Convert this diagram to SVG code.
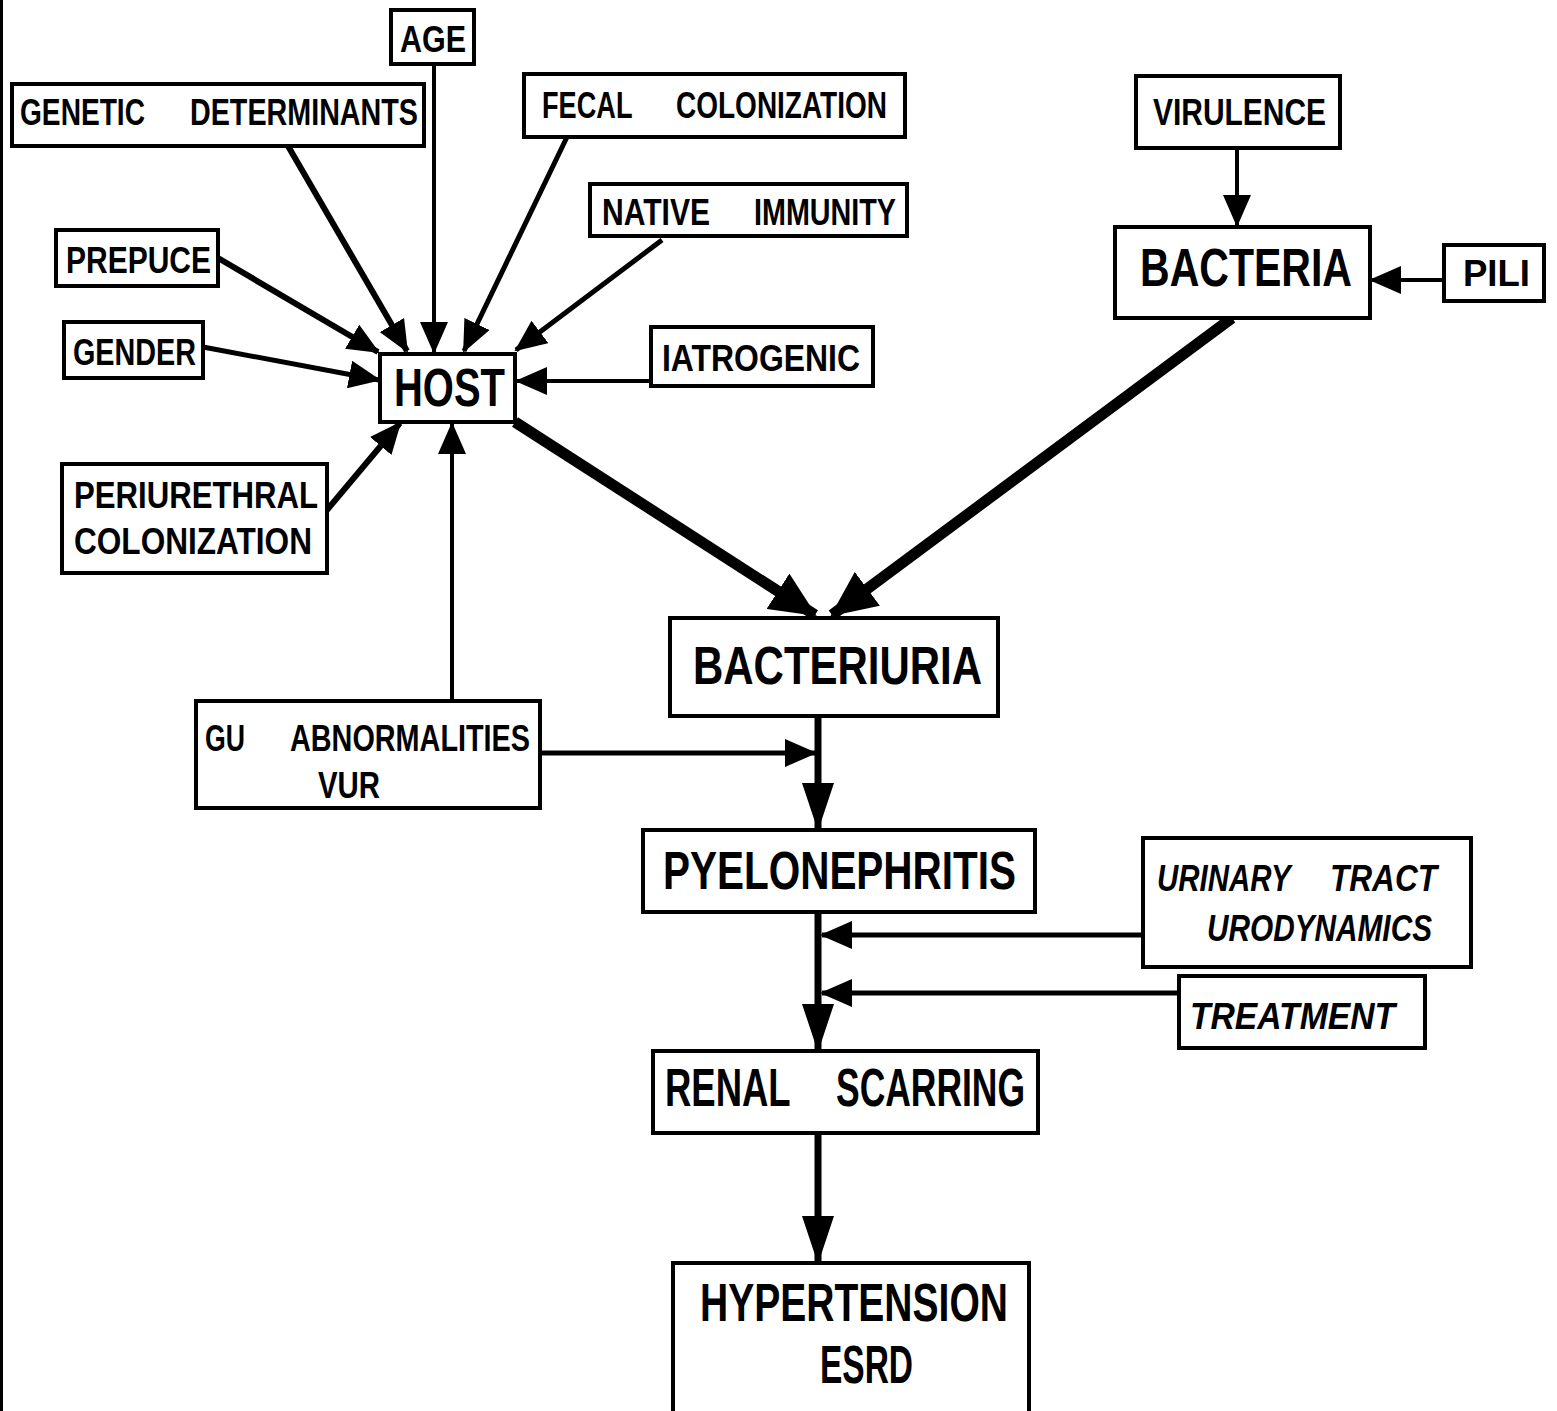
<svg xmlns="http://www.w3.org/2000/svg" width="1557" height="1411" viewBox="0 0 1557 1411">
<style>
.box{fill:#fff;stroke:#000;stroke-width:4}
.t{font-family:"Liberation Sans","DejaVu Sans",sans-serif;font-weight:bold;fill:#000}
.s{font-size:37px}
.l{font-size:53px}
.i{font-style:italic}
.c{fill:none;stroke:#000}
</style>
<defs>
<marker id="a" markerUnits="userSpaceOnUse" markerWidth="32" markerHeight="28" refX="30" refY="14" orient="auto"><path d="M0,0 L32,14 L0,28 z" fill="#000"/></marker>
<marker id="b" markerUnits="userSpaceOnUse" markerWidth="46" markerHeight="42" refX="44" refY="21" orient="auto"><path d="M0,0 L46,21 L0,42 z" fill="#000"/></marker>
<marker id="v" markerUnits="userSpaceOnUse" markerWidth="48" markerHeight="32" refX="46" refY="16" orient="auto"><path d="M0,0 L48,16 L0,32 z" fill="#000"/></marker>
</defs>
<rect x="0" y="0" width="1557" height="1411" fill="#fff"/>
<rect x="0" y="0" width="3" height="1411" fill="#000"/>

<g id="connectors">
<line class="c" stroke-width="4" x1="434" y1="64" x2="434" y2="352" marker-end="url(#a)"/>
<line class="c" stroke-width="6" x1="288" y1="146" x2="407" y2="351" marker-end="url(#a)"/>
<line class="c" stroke-width="5" x1="567" y1="137" x2="464" y2="351" marker-end="url(#a)"/>
<line class="c" stroke-width="5" x1="662" y1="240" x2="516" y2="350" marker-end="url(#a)"/>
<line class="c" stroke-width="6" x1="218" y1="258" x2="378" y2="352" marker-end="url(#a)"/>
<line class="c" stroke-width="5" x1="203" y1="347" x2="379" y2="380" marker-end="url(#a)"/>
<line class="c" stroke-width="4" x1="651" y1="381" x2="517" y2="381" marker-end="url(#a)"/>
<line class="c" stroke-width="6" x1="327" y1="510" x2="400" y2="423" marker-end="url(#a)"/>
<line class="c" stroke-width="4" x1="452" y1="700" x2="452" y2="424" marker-end="url(#a)"/>
<line class="c" stroke-width="11" x1="515" y1="422" x2="815" y2="615" marker-end="url(#b)"/>
<line class="c" stroke-width="11" x1="1232" y1="318" x2="832" y2="615" marker-end="url(#b)"/>
<line class="c" stroke-width="4" x1="1237" y1="148" x2="1237" y2="225" marker-end="url(#a)"/>
<line class="c" stroke-width="4" x1="1444" y1="280" x2="1371" y2="280" marker-end="url(#a)"/>
<line class="c" stroke-width="7" x1="818" y1="716" x2="818" y2="829" marker-end="url(#v)"/>
<line class="c" stroke-width="5" x1="540" y1="753" x2="815" y2="753" marker-end="url(#a)"/>
<line class="c" stroke-width="7" x1="818" y1="912" x2="818" y2="1050" marker-end="url(#v)"/>
<line class="c" stroke-width="5" x1="1143" y1="935" x2="822" y2="935" marker-end="url(#a)"/>
<line class="c" stroke-width="5" x1="1178" y1="993" x2="822" y2="993" marker-end="url(#a)"/>
<line class="c" stroke-width="7" x1="818" y1="1133" x2="818" y2="1262" marker-end="url(#v)"/>
</g>

<g id="age"><rect class="box" x="391" y="10" width="83" height="54"/><text class="t s" x="400" y="52" textLength="66" lengthAdjust="spacingAndGlyphs">AGE</text></g>
<g id="genetic"><rect class="box" x="12" y="84" width="412" height="62"/><text class="t s" y="125"><tspan x="20" textLength="125" lengthAdjust="spacingAndGlyphs">GENETIC</tspan> <tspan x="190" textLength="228" lengthAdjust="spacingAndGlyphs">DETERMINANTS</tspan></text></g>
<g id="fecal"><rect class="box" x="524" y="74" width="381" height="63"/><text class="t s" y="118"><tspan x="542" textLength="90" lengthAdjust="spacingAndGlyphs">FECAL</tspan> <tspan x="676" textLength="211" lengthAdjust="spacingAndGlyphs">COLONIZATION</tspan></text></g>
<g id="native"><rect class="box" x="590" y="184" width="317" height="52"/><text class="t s" y="225"><tspan x="602" textLength="108" lengthAdjust="spacingAndGlyphs">NATIVE</tspan> <tspan x="754" textLength="142" lengthAdjust="spacingAndGlyphs">IMMUNITY</tspan></text></g>
<g id="prepuce"><rect class="box" x="56" y="230" width="162" height="56"/><text class="t s" x="66" y="273" textLength="145" lengthAdjust="spacingAndGlyphs">PREPUCE</text></g>
<g id="gender"><rect class="box" x="64" y="322" width="139" height="56"/><text class="t s" x="73" y="365" textLength="123" lengthAdjust="spacingAndGlyphs">GENDER</text></g>
<g id="host"><rect class="box" x="380" y="354" width="135" height="68"/><text class="t l" x="394" y="406" textLength="111" lengthAdjust="spacingAndGlyphs">HOST</text></g>
<g id="iatrogenic"><rect class="box" x="651" y="327" width="222" height="59"/><text class="t s" x="662" y="371" textLength="198" lengthAdjust="spacingAndGlyphs">IATROGENIC</text></g>
<g id="periurethral"><rect class="box" x="62" y="464" width="265" height="109"/><text class="t s"><tspan x="74" y="508" textLength="244" lengthAdjust="spacingAndGlyphs">PERIURETHRAL</tspan><tspan x="74" y="554" textLength="238" lengthAdjust="spacingAndGlyphs">COLONIZATION</tspan></text></g>
<g id="virulence"><rect class="box" x="1136" y="76" width="204" height="72"/><text class="t s" x="1153" y="125" textLength="173" lengthAdjust="spacingAndGlyphs">VIRULENCE</text></g>
<g id="bacteria"><rect class="box" x="1115" y="227" width="255" height="91"/><text class="t l" x="1140" y="286" textLength="212" lengthAdjust="spacingAndGlyphs">BACTERIA</text></g>
<g id="pili"><rect class="box" x="1444" y="245" width="100" height="56"/><text class="t s" x="1463" y="286" textLength="67" lengthAdjust="spacingAndGlyphs">PILI</text></g>
<g id="bacteriuria"><rect class="box" x="670" y="618" width="328" height="98"/><text class="t l" x="693" y="684" textLength="289" lengthAdjust="spacingAndGlyphs">BACTERIURIA</text></g>
<g id="gu"><rect class="box" x="196" y="701" width="344" height="107"/><text class="t s"><tspan x="205" y="751" textLength="40" lengthAdjust="spacingAndGlyphs">GU</tspan> <tspan x="290" y="751" textLength="240" lengthAdjust="spacingAndGlyphs">ABNORMALITIES</tspan><tspan x="318" y="798" textLength="62" lengthAdjust="spacingAndGlyphs">VUR</tspan></text></g>
<g id="pyelonephritis"><rect class="box" x="643" y="830" width="392" height="82"/><text class="t l" x="663" y="889" textLength="353" lengthAdjust="spacingAndGlyphs">PYELONEPHRITIS</text></g>
<g id="urinary"><rect class="box" x="1143" y="838" width="328" height="129"/><text class="t s i"><tspan x="1157" y="891" textLength="133" lengthAdjust="spacingAndGlyphs">URINARY</tspan> <tspan x="1330" y="891" textLength="107" lengthAdjust="spacingAndGlyphs">TRACT</tspan><tspan x="1207" y="941" textLength="225" lengthAdjust="spacingAndGlyphs">URODYNAMICS</tspan></text></g>
<g id="treatment"><rect class="box" x="1179" y="976" width="246" height="72"/><text class="t s i" x="1190" y="1029" textLength="205" lengthAdjust="spacingAndGlyphs">TREATMENT</text></g>
<g id="renal"><rect class="box" x="653" y="1051" width="385" height="82"/><text class="t l" y="1106"><tspan x="665" textLength="125" lengthAdjust="spacingAndGlyphs">RENAL</tspan> <tspan x="836" textLength="189" lengthAdjust="spacingAndGlyphs">SCARRING</tspan></text></g>
<g id="hypertension"><rect class="box" x="673" y="1263" width="356" height="150"/><text class="t l"><tspan x="700" y="1321" textLength="308" lengthAdjust="spacingAndGlyphs">HYPERTENSION</tspan><tspan x="820" y="1383" textLength="93" lengthAdjust="spacingAndGlyphs">ESRD</tspan></text></g>
</svg>
